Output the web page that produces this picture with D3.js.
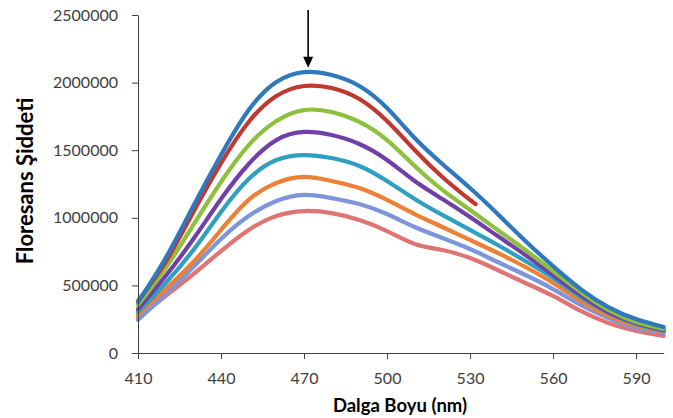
<!DOCTYPE html>
<html>
<head>
<meta charset="utf-8">
<script src="https://cdn.jsdelivr.net/npm/d3@7"></script>
<style>
    body { margin: 0; background: #fff; }
    svg { display: block; }
</style>
</head>
<body>
<div id="chart"></div>
<script>
// dimensions
var width = 673;
var height = 418;

// wavelengths (nm), every 10 nm
var wavelengths = [410, 420, 430, 440, 450, 460, 470, 480, 490, 500,
                   510, 520, 530, 540, 550, 560, 570, 580, 590, 600];

// fluorescence intensities
var seriesBlue   = [377000, 703000, 1087000, 1464000, 1797000, 2004000, 2078000, 2056000, 1975000, 1812000,
                    1590000, 1398000, 1220000, 1028000, 828000, 643000, 473000, 340000, 251000, 192000];
var seriesRed    = [385000, 673000, 1043000, 1405000, 1709000, 1901000, 1975000, 1960000, 1879000, 1716000,
                    1501000, 1302000, 1132000];
var redEndWave   = 532;
var redEndValue  = 1102000;
var seriesGreen  = [355000, 629000, 947000, 1265000, 1538000, 1716000, 1797000, 1782000, 1709000, 1575000,
                    1383000, 1206000, 1058000, 910000, 762000, 606000, 451000, 318000, 229000, 178000];
var seriesPurple = [325000, 570000, 843000, 1139000, 1398000, 1575000, 1635000, 1612000, 1546000, 1428000,
                    1272000, 1139000, 1006000, 865000, 725000, 577000, 429000, 303000, 222000, 170000];
var seriesTeal   = [303000, 518000, 762000, 1043000, 1287000, 1427000, 1464000, 1442000, 1383000, 1272000,
                    1139000, 1021000, 910000, 799000, 680000, 555000, 414000, 296000, 214000, 163000];
var seriesOrange = [281000, 473000, 673000, 910000, 1132000, 1257000, 1302000, 1272000, 1220000, 1132000,
                    1028000, 932000, 836000, 740000, 636000, 518000, 385000, 274000, 200000, 155000];
var seriesLight  = [244000, 436000, 636000, 843000, 1013000, 1124000, 1169000, 1146000, 1102000, 1028000,
                    932000, 851000, 769000, 673000, 577000, 473000, 355000, 259000, 185000, 148000];
var seriesPink   = [259000, 422000, 584000, 754000, 910000, 1013000, 1050000, 1035000, 984000, 902000,
                    806000, 762000, 703000, 614000, 518000, 422000, 311000, 222000, 163000, 126000];

var xTicks = [410, 440, 470, 500, 530, 560, 590];
var yTicks = [0, 500000, 1000000, 1500000, 2000000, 2500000];
var arrowWave = 471.5;

var colors = ["#2F78BE", "#C0392F", "#8DC03C", "#7040A8", "#2FA0C2", "#EE8035", "#7C95DC", "#E07474"];

// build the series (drawn bottom-up so blue ends on top)
var redWaves = wavelengths.slice(0, seriesRed.length).concat([redEndWave]);
var redVals = seriesRed.concat([redEndValue]);

var series = [
    {name: "s8", waves: wavelengths, vals: seriesPink,   color: colors[7]},
    {name: "s7", waves: wavelengths, vals: seriesLight,  color: colors[6]},
    {name: "s6", waves: wavelengths, vals: seriesOrange, color: colors[5]},
    {name: "s5", waves: wavelengths, vals: seriesTeal,   color: colors[4]},
    {name: "s4", waves: wavelengths, vals: seriesPurple, color: colors[3]},
    {name: "s3", waves: wavelengths, vals: seriesGreen,  color: colors[2]},
    {name: "s2", waves: redWaves,    vals: redVals,      color: colors[1]},
    {name: "s1", waves: wavelengths, vals: seriesBlue,   color: colors[0]}
];

var svg = d3.select("#chart")
    .append("svg")
    .attr("width", width)
    .attr("height", height);

var x = d3.scaleLinear().domain([410, 600]).range([138, 663.7]);
var y = d3.scaleLinear().domain([0, 2500000]).range([353, 15]);

var line = d3.line()
    .x(function (d) { return x(d[0]); })
    .y(function (d) { return y(d[1]); })
    .curve(d3.curveNatural);

// lines
svg.append("g")
    .selectAll("path")
    .data(series)
    .enter()
    .append("path")
    .attr("d", function (s) {
        return line(s.waves.map(function (w, i) { return [w, s.vals[i]]; }));
    })
    .attr("fill", "none")
    .attr("stroke", function (s) { return s.color; })
    .attr("stroke-width", 4.2)
    .attr("stroke-linejoin", "round")
    .attr("stroke-linecap", "round");

// axes
var yAxis = svg.append("g")
    .attr("transform", "translate(138,0)")
    .call(d3.axisLeft(y).tickValues(yTicks).tickSize(6).tickSizeOuter(0)
        .tickPadding(14).tickFormat(d3.format("d")));

var xAxis = svg.append("g")
    .attr("transform", "translate(0,353)")
    .call(d3.axisBottom(x).tickValues(xTicks).tickSize(6).tickSizeOuter(0)
        .tickPadding(14));

[xAxis, yAxis].forEach(function (a) {
    a.selectAll("path, line").attr("stroke", "#404040").attr("stroke-width", 1);
    a.selectAll("text")
        .attr("fill", "#404040")
        .style("font-family", "Lato, sans-serif")
        .style("font-size", "16px");
});

// axis titles
svg.append("text")
    .attr("x", 400)
    .attr("y", 412)
    .attr("text-anchor", "middle")
    .style("font-family", "Lato, sans-serif")
    .style("font-size", "18.5px")
    .style("font-weight", 700)
    .attr("fill", "#000")
    .text("Dalga Boyu (nm)");

svg.append("text")
    .attr("transform", "translate(33,181) rotate(-90)")
    .attr("text-anchor", "middle")
    .style("font-family", "Lato, sans-serif")
    .style("font-size", "22px")
    .style("font-weight", 700)
    .attr("fill", "#000")
    .text("Floresans Şiddeti");

// arrow marking the peak
var ax = x(arrowWave);
var tipY = y(2110000);
svg.append("line")
    .attr("x1", ax).attr("x2", ax)
    .attr("y1", 10).attr("y2", tipY - 8)
    .attr("stroke", "#000")
    .attr("stroke-width", 1.6);
svg.append("path")
    .attr("d", "M" + (ax - 5) + "," + (tipY - 11) + "L" + (ax + 5) + "," + (tipY - 11) + "L" + ax + "," + tipY + "Z")
    .attr("fill", "#000");
</script>
</body>
</html>
